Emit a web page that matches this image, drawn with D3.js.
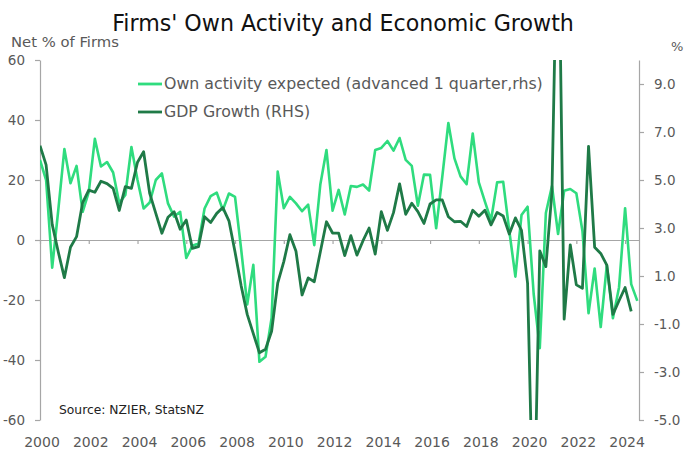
<!DOCTYPE html>
<html><head><meta charset="utf-8">
<script src="https://cdn.jsdelivr.net/npm/d3@7"></script>
<style>body{margin:0;background:#fff} svg{display:block}</style>
</head><body><svg id="c" width="687" height="469"></svg>
<script>
// Quarterly data, 2000Q1 onwards
const yearLabels = ["2000","2002","2004","2006","2008","2010","2012","2014","2016","2018","2020","2022","2024"];
const leftTicks = [-60,-40,-20,0,20,40,60];
const rightTicks = [-5,-3,-1,1,3,5,7,9];
// Own activity expected (net %, advanced 1 quarter) - left axis
const ownActivity = [26.7,20,-9.2,10,30.3,18.9,24.7,9.4,16,33.7,
  24.5,26,22.5,12.3,15,31,20,10.5,12.5,20,
  22.2,12.2,7.8,9.4,-6,-1.9,-1.2,10.5,14.6,15.8,
  10,15.5,14.4,-3,-21.5,-8.3,-40.6,-38.9,-26,22.8,
  10.6,14.4,12.2,9.6,11.8,-1.7,18.6,30,9.8,16.7,
  8.5,18,17.7,18.5,16.5,30,30.7,33,29.8,34,
  26.7,24.7,11.4,21.8,21.7,3.9,21,39,27.2,21.2,
  18.6,35.5,19.2,12.8,6.6,19.2,19.4,3,-12.2,8.3,
  11.1,-18,-36.1,9,18,2,16.4,17,15.6,3,
  -24.4,-9.5,-29,-8.4,-26.1,-15.8,10.6,-14.7,-20.3];
// GDP growth (%, annual) - right axis
const gdpGrowth = [6.43,5.63,3.15,2.0,0.93,2.2,2.64,4.06,4.58,4.49,
  4.95,4.85,4.65,3.73,4.72,4.65,5.74,6.18,4.44,3.61,
  2.78,3.45,3.68,2.95,3.33,2.15,2.22,3.47,3.23,3.61,
  3.85,3.3,2.0,0.6,-0.6,-1.4,-2.2,-2.05,-1.3,0.7,
  1.6,2.72,2.03,0.21,0.92,0.76,2.01,3.26,2.79,2.79,
  1.85,2.68,1.87,2.47,3.0,1.91,3.68,2.9,3.64,4.84,
  3.57,4.03,3.68,3.19,4.0,4.17,4.17,3.47,3.26,3.28,
  3.06,3.74,3.49,3.74,3.13,3.65,3.5,2.75,3.42,2.9,
  0.69,-10.3,2.05,1.39,4.5,17.5,-0.8,2.3,0.63,0.49,
  6.4,2.2,1.94,1.45,-0.6,-0.03,0.52,-0.47];

const svg = d3.select("#c");
const FONT = "DejaVu Sans";
const gray = "#595959", axisCol = "#a6a6a6";
const L = 40, R = 639, T = 60, B = 420;

const x = d3.scaleLinear().domain([0, 98.28]).range([L, R]);
const yL = d3.scaleLinear().domain([-60, 60]).range([B, T]);
const yR = d3.scaleLinear().domain([-5, 10]).range([B, T]);

function fit(sel, w) {
  const cur = sel.node().getComputedTextLength();
  const fs = parseFloat(sel.attr("font-size"));
  sel.attr("font-size", fs * w / cur);
}

// Title
const title = svg.append("text").attr("x", 343).attr("y", 31).attr("text-anchor", "middle")
  .attr("font-family", FONT).attr("font-size", 20).attr("fill", "#111")
  .text("Firms' Own Activity and Economic Growth");
fit(title, 462);

// Axis titles
const nt = svg.append("text").attr("x", 11).attr("y", 47).attr("font-family", FONT)
  .attr("font-size", 13).attr("fill", gray).text("Net % of Firms");
fit(nt, 108);
svg.append("text").attr("x", 671).attr("y", 51).attr("font-family", FONT)
  .attr("font-size", 13).attr("fill", gray).text("%");

function styleAxis(g) {
  g.selectAll(".domain").attr("stroke", axisCol).attr("stroke-width", 1.2);
  g.selectAll(".tick line").attr("stroke", axisCol).attr("stroke-width", 1.2);
  g.selectAll(".tick text").attr("fill", gray).attr("font-family", FONT).attr("font-size", 13.5);
}

// Left axis
const gL = svg.append("g").attr("transform", `translate(${L},0)`)
  .call(d3.axisLeft(yL).tickValues(leftTicks).tickSize(5).tickSizeOuter(0).tickPadding(10).tickFormat(d => String(d)));
styleAxis(gL);

// Right axis
const gR = svg.append("g").attr("transform", `translate(${R},0)`)
  .call(d3.axisRight(yR).tickValues(rightTicks).tickSize(5).tickSizeOuter(0).tickPadding(10).tickFormat(d => d.toFixed(1)));
styleAxis(gR);

// Zero line with year ticks
const tickIdx = yearLabels.map((d, i) => i * 8);
const gZ = svg.append("g").attr("transform", `translate(0,${yL(0)})`)
  .call(d3.axisBottom(x).tickValues(tickIdx).tickSize(4).tickSizeOuter(0).tickFormat(""));
styleAxis(gZ);

// Year labels at bottom
const gX = svg.append("g").attr("transform", `translate(1.5,${B})`)
  .call(d3.axisBottom(x).tickValues(tickIdx).tickSize(0).tickPadding(17).tickFormat((d, i) => yearLabels[i]));
gX.select(".domain").remove();
styleAxis(gX);
gX.selectAll(".tick text").attr("font-size", 14);

// Clip
svg.append("clipPath").attr("id", "clip").append("rect")
  .attr("x", L).attr("y", T).attr("width", R - L).attr("height", B - T);

const lightCol = "#2fdc7e", darkCol = "#1f7a47";
const lineL = d3.line().x((d, i) => x(i)).y(d => yL(d));
const lineR = d3.line().x((d, i) => x(i)).y(d => yR(d));
svg.append("path").datum(ownActivity).attr("d", lineL).attr("fill", "none")
  .attr("stroke", lightCol).attr("stroke-width", 2.6).attr("stroke-linejoin", "round")
  .attr("clip-path", "url(#clip)");
svg.append("path").datum(gdpGrowth).attr("d", lineR).attr("fill", "none")
  .attr("stroke", darkCol).attr("stroke-width", 2.8).attr("stroke-linejoin", "round")
  .attr("clip-path", "url(#clip)");

// Legend
const legend = [
  {label: "Own activity expected (advanced 1 quarter,rhs)", color: lightCol, y: 84},
  {label: "GDP Growth (RHS)", color: darkCol, y: 112}
];
const lg = svg.append("g");
lg.selectAll("line").data(legend).join("line")
  .attr("x1", 138).attr("x2", 162).attr("y1", d => d.y).attr("y2", d => d.y)
  .attr("stroke", d => d.color).attr("stroke-width", 2.8);
const lt = lg.selectAll("text").data(legend).join("text")
  .attr("x", 164).attr("y", d => d.y + 5).attr("font-family", FONT)
  .attr("font-size", 14).attr("fill", gray).text(d => d.label);
const first = d3.select(lt.nodes()[0]);
fit(first, 379);
lt.attr("font-size", first.attr("font-size"));

// Source
const src = svg.append("text").attr("x", 59).attr("y", 414).attr("font-family", FONT)
  .attr("font-size", 13).attr("fill", "#222").text("Source: NZIER, StatsNZ");
fit(src, 145);
</script></body></html>
